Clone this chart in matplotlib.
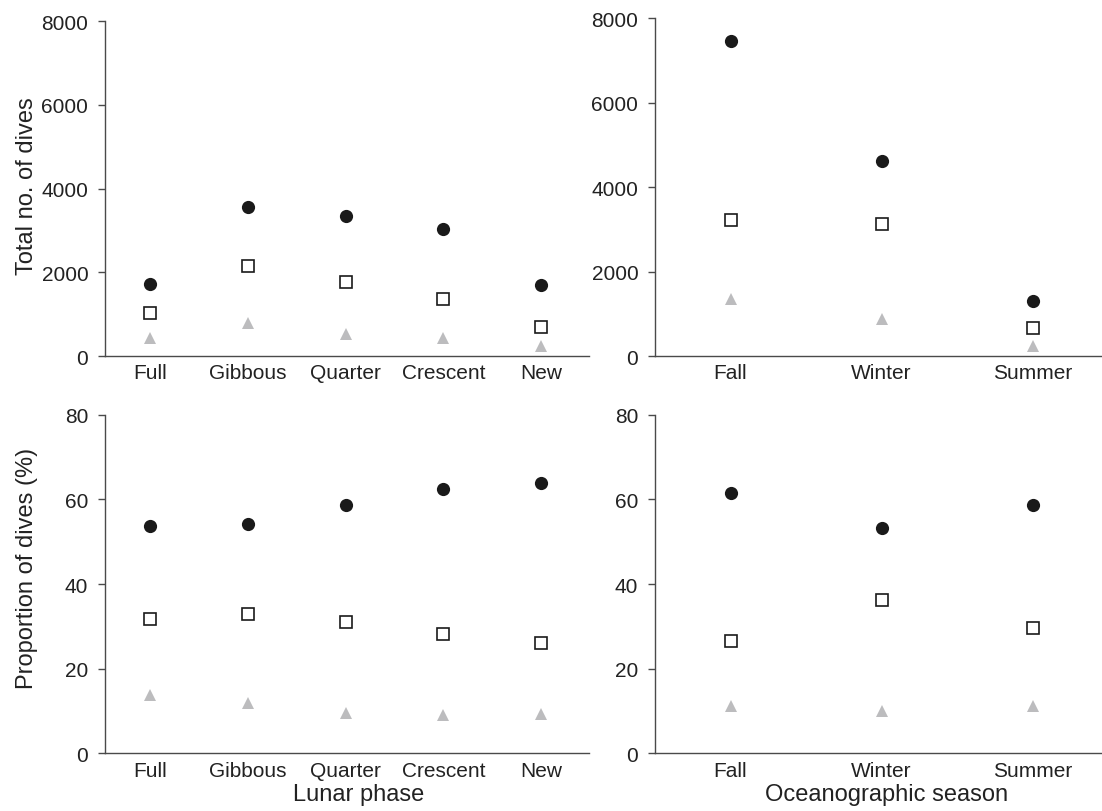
import matplotlib
matplotlib.use('Agg')
import matplotlib.pyplot as plt

plt.rcParams['font.family'] = ['Liberation Sans', 'DejaVu Sans']

phases = ['Full', 'Gibbous', 'Quarter', 'Crescent', 'New']
seasons = ['Fall', 'Winter', 'Summer']

# total number of dives per category
phase_total_circle = [1730, 3550, 3350, 3040, 1700]
phase_total_square = [1030, 2160, 1770, 1370, 690]
phase_total_tri = [420, 780, 530, 440, 240]
season_total_circle = [7460, 4610, 1310]
season_total_square = [3230, 3120, 660]
season_total_tri = [1340, 870, 230]

# proportion of dives (%)
phase_prop_circle = [53.8, 54.3, 58.8, 62.4, 63.9]
phase_prop_square = [31.7, 33.0, 31.1, 28.1, 26.1]
phase_prop_tri = [13.8, 11.9, 9.4, 8.9, 9.3]
season_prop_circle = [61.6, 53.3, 58.7]
season_prop_square = [26.6, 36.1, 29.7]
season_prop_tri = [11.1, 10.0, 11.1]

dark = '#1a1a1a'
grey = '#bcbcbe'
axcol = '#4a4a4a'
txt = '#222222'

fig = plt.figure(figsize=(11.02, 8.12), dpi=100)
ax_tl = fig.add_axes([0.0953, 0.5603, 0.4392, 0.4126])
ax_tr = fig.add_axes([0.5944, 0.5603, 0.4056, 0.4163])
ax_bl = fig.add_axes([0.0953, 0.0714, 0.4392, 0.4163])
ax_br = fig.add_axes([0.5944, 0.0714, 0.4056, 0.4163])

panels = [
    (ax_tl, phases, phase_total_circle, phase_total_square, phase_total_tri, 5),
    (ax_tr, seasons, season_total_circle, season_total_square, season_total_tri, 5),
    (ax_bl, phases, phase_prop_circle, phase_prop_square, phase_prop_tri, 6),
    (ax_br, seasons, season_prop_circle, season_prop_square, season_prop_tri, 6),
]

for ax, cats, circ, sq, tri, xpad in panels:
    x = list(range(len(cats)))
    ax.plot(x, tri, linestyle='none', marker='^', markersize=8.5,
            color=grey, markeredgewidth=0)
    ax.plot(x, sq, linestyle='none', marker='s', markersize=8.5,
            markerfacecolor='white', markeredgecolor=dark, markeredgewidth=1.2)
    ax.plot(x, circ, linestyle='none', marker='o', markersize=9.5,
            color=dark, markeredgewidth=0)
    ax.set_xticks(x)
    ax.set_xticklabels(cats)
    for s in ['top', 'right']:
        ax.spines[s].set_visible(False)
    for s in ['left', 'bottom']:
        ax.spines[s].set_color(axcol)
        ax.spines[s].set_linewidth(1.0)
    ax.tick_params(axis='x', length=0, pad=xpad, labelsize=15, colors=txt)
    ax.tick_params(axis='y', length=5, width=1.0, pad=7, labelsize=15,
                   colors=axcol, labelcolor=txt)

ax_tl.set_xlim(-0.46, 4.49)
ax_bl.set_xlim(-0.46, 4.49)
ax_tr.set_xlim(-0.5, 2.46)
ax_br.set_xlim(-0.5, 2.46)

for ax in [ax_tl, ax_tr]:
    ax.set_ylim(0, 8000)
    ax.set_yticks([0, 2000, 4000, 6000, 8000])
for ax in [ax_bl, ax_br]:
    ax.set_ylim(0, 80)
    ax.set_yticks([0, 20, 40, 60, 80])

ax_tl.set_ylabel('Total no. of dives', fontsize=17, color=txt)
ax_bl.set_ylabel('Proportion of dives (%)', fontsize=17, color=txt)
ax_tl.yaxis.set_label_coords(-0.138, 0.51)
ax_bl.yaxis.set_label_coords(-0.138, 0.55)

ax_bl.set_xlabel('Lunar phase', fontsize=17, color=txt)
ax_br.set_xlabel('Oceanographic season', fontsize=17, color=txt)
ax_bl.xaxis.set_label_coords(0.523, -0.090)
ax_br.xaxis.set_label_coords(0.517, -0.090)

fig.savefig('out.png', dpi=100)
